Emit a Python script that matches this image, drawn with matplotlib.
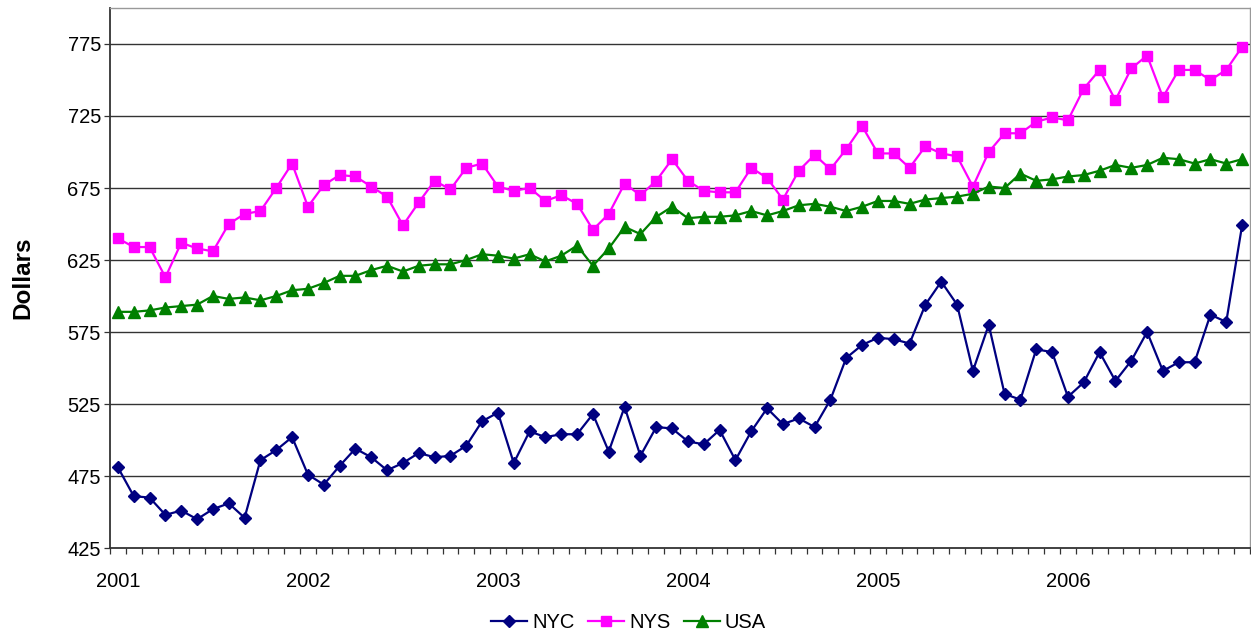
import matplotlib
matplotlib.use("Agg")
import matplotlib.pyplot as plt
from matplotlib.ticker import FixedLocator, NullFormatter

plt.rcParams['font.family'] = ['Liberation Sans', 'DejaVu Sans']

years = ["2001", "2002", "2003", "2004", "2005", "2006"]

nyc = [481, 461, 460, 448, 451, 445, 452, 456, 446, 486, 493, 502,
       476, 469, 482, 494, 488, 479, 484, 491, 488, 489, 496, 513,
       519, 484, 506, 502, 504, 504, 518, 492, 523, 489, 509, 508,
       499, 497, 507, 486, 506, 522, 511, 515, 509, 528, 557, 566,
       571, 570, 567, 594, 610, 594, 548, 580, 532, 528, 563, 561,
       530, 540, 561, 541, 555, 575, 548, 554, 554, 587, 582, 649]

nys = [640, 634, 634, 613, 637, 633, 631, 650, 657, 659, 675, 692,
       662, 677, 684, 683, 676, 669, 649, 665, 680, 674, 689, 692,
       676, 673, 675, 666, 670, 664, 646, 657, 678, 670, 680, 695,
       680, 673, 672, 672, 689, 682, 667, 687, 698, 688, 702, 718,
       699, 699, 689, 704, 699, 697, 676, 700, 713, 713, 721, 724,
       722, 744, 757, 736, 758, 767, 738, 757, 757, 750, 757, 773]

usa = [589, 589, 590, 592, 593, 594, 600, 598, 599, 597, 600, 604,
       605, 609, 614, 614, 618, 621, 617, 621, 622, 622, 625, 629,
       628, 626, 629, 624, 628, 635, 621, 633, 648, 643, 655, 662,
       654, 655, 655, 656, 659, 656, 659, 663, 664, 662, 659, 662,
       666, 666, 664, 667, 668, 669, 671, 676, 675, 685, 680, 681,
       683, 684, 687, 691, 689, 691, 696, 695, 692, 695, 692, 695]

series_names = ["NYC", "NYS", "USA"]
colors = ["#000080", "#FF00FF", "#008000"]
markers = ["D", "s", "^"]
msizes = [6.5, 7.5, 8]

W, H = 1251, 635
fig = plt.figure(figsize=(W / 100, H / 100), dpi=100)
ax = fig.add_axes([110 / W, (H - 548) / H, 1140 / W, 540 / H])

x = list(range(len(nyc)))
for data, name, c, m, ms in zip([nyc, nys, usa], series_names, colors, markers, msizes):
    ax.plot(x, data, color=c, marker=m, markersize=ms, linewidth=1.6,
            markeredgecolor=c, label=name, clip_on=False, zorder=3)

ax.set_xlim(-0.5, len(nyc) - 0.5)
ax.set_ylim(425, 800)

yt = [425, 475, 525, 575, 625, 675, 725, 775]
ax.set_yticks(yt)
ax.set_yticklabels([str(v) for v in yt])
for v in yt[1:]:
    ax.axhline(v, color="#333333", linewidth=1.0, zorder=1)

ax.xaxis.set_major_locator(FixedLocator([12 * i for i in range(len(years))]))
ax.set_xticklabels(years)
ax.xaxis.set_minor_locator(FixedLocator([i - 0.5 for i in range(len(nyc) + 1)]))
ax.xaxis.set_minor_formatter(NullFormatter())
ax.tick_params(axis="x", which="major", length=0, pad=17, labelsize=14.5)
ax.tick_params(axis="x", which="minor", length=4.5, width=0.9, direction="out", color="#333333")
ax.tick_params(axis="y", which="major", length=4.5, width=0.9, pad=2, labelsize=14.5, color="#333333")

for s in ["left", "bottom"]:
    ax.spines[s].set_color("#333333")
    ax.spines[s].set_linewidth(1.3)
for s in ["top", "right"]:
    ax.spines[s].set_color("#999999")
    ax.spines[s].set_linewidth(1.0)

fig.text(22.5 / W, 1 - 278 / H, "Dollars", rotation=90, ha="center", va="center",
         fontsize=17.5, fontweight="bold")

fig.legend(loc="center", bbox_to_anchor=(0.5025, 0.019), ncol=3, frameon=False,
           fontsize=14.5, handlelength=1.8, handletextpad=0.25, columnspacing=0.65)

fig.savefig("out.png", dpi=100)
